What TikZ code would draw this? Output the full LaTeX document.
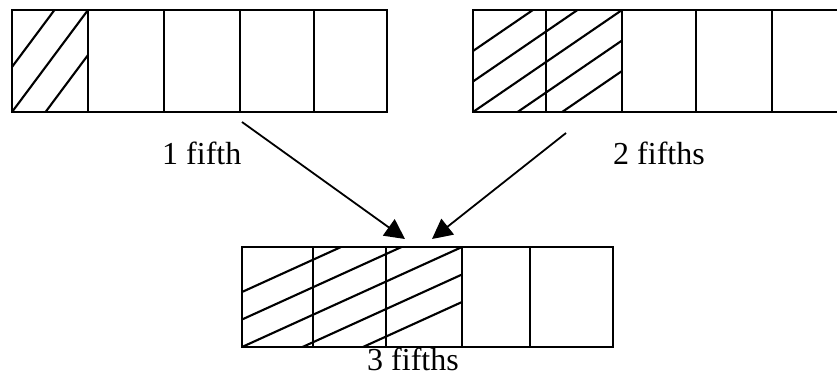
\documentclass[tikz,border=0pt]{standalone}
\usepackage{fontspec}
\setmainfont{Liberation Serif}
\usetikzlibrary{arrows.meta}

\begin{document}
\begin{tikzpicture}[
  x=1pt, y=-1pt,
  cell/.style={draw=black, line width=2.4pt},
  hatch/.style={draw=black, line width=2.1pt},
  arr/.style={draw=black, line width=1.8pt, -{Triangle[length=20pt, width=20pt]}},
  lbl/.style={font=\fontsize{32}{38}\selectfont, inner sep=0pt, anchor=base west}
]
\clip (0,0) rectangle (837,376);

% top left strip: 1 fifth
\begin{scope}
  \clip (12,10) rectangle (88,112);
  \foreach \s in {-45,0,45}
    \draw[hatch] (-64,214+\s) -- (164,-92+\s);
\end{scope}
\draw[cell] (12,10) rectangle (387,112);
\foreach \x in {88,164,240,314}
  \draw[cell] (\x,10) -- (\x,112);

% top right strip: 2 fifths
\begin{scope}
  \clip (473,10) rectangle (622,112);
  \foreach \s in {-61,-30.5,0,30.5,61}
    \draw[hatch] (324,214+\s) -- (771,-92+\s);
\end{scope}
\draw[cell] (473,10) rectangle (848,112);
\foreach \x in {546,622,696,772}
  \draw[cell] (\x,10) -- (\x,112);

% bottom strip: 3 fifths
\begin{scope}
  \clip (242,247) rectangle (462,347);
  \foreach \s in {-55,-27.5,0,27.5,55}
    \draw[hatch] (22,447+\s) -- (682,147+\s);
\end{scope}
\draw[cell] (242,247) rectangle (613,347);
\foreach \x in {313,386,462,530}
  \draw[cell] (\x,247) -- (\x,347);

\node[lbl] (lblone) at (162,164.5) {1 fifth};
\node[lbl] (lbltwo) at (613,164.5) {2 fifths};
\node[lbl] (lblthree) at (367,370.5) {3 fifths};

\coordinate (srcone) at (242,122);
\coordinate (dstone) at (405,239);
\coordinate (srctwo) at (566,133);
\coordinate (dsttwo) at (432,239);
\draw[arr] (srcone) -- (dstone);
\draw[arr] (srctwo) -- (dsttwo);

\end{tikzpicture}
\end{document}
